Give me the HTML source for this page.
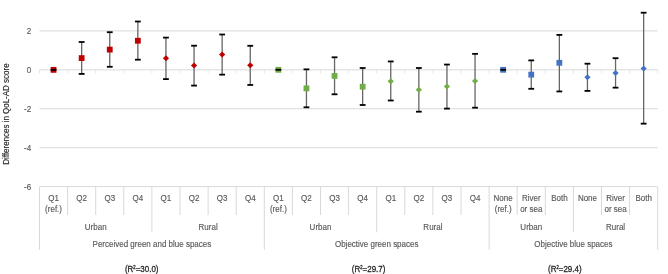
<!DOCTYPE html><html><head><meta charset="utf-8"><style>html,body{margin:0;padding:0;background:#fff;}svg{display:block;}#w{will-change:transform;width:668px;height:274px;}text{font-family:"Liberation Sans",sans-serif;}</style></head><body>
<div id="w">
<svg width="668" height="274" viewBox="0 0 668 274">
<rect width="668" height="274" fill="#fff"/>
<line x1="39.5" y1="30.9" x2="657.70" y2="30.9" stroke="#d9d9d9" stroke-width="1"/>
<line x1="39.5" y1="69.85" x2="657.70" y2="69.85" stroke="#d9d9d9" stroke-width="1"/>
<line x1="39.5" y1="108.76" x2="657.70" y2="108.76" stroke="#d9d9d9" stroke-width="1"/>
<line x1="39.5" y1="147.7" x2="657.70" y2="147.7" stroke="#d9d9d9" stroke-width="1"/>
<line x1="39.50" y1="69.85" x2="39.50" y2="73.35" stroke="#e6e6e6" stroke-width="1"/>
<line x1="67.60" y1="69.85" x2="67.60" y2="73.35" stroke="#e6e6e6" stroke-width="1"/>
<line x1="95.70" y1="69.85" x2="95.70" y2="73.35" stroke="#e6e6e6" stroke-width="1"/>
<line x1="123.80" y1="69.85" x2="123.80" y2="73.35" stroke="#e6e6e6" stroke-width="1"/>
<line x1="151.90" y1="69.85" x2="151.90" y2="73.35" stroke="#e6e6e6" stroke-width="1"/>
<line x1="180.00" y1="69.85" x2="180.00" y2="73.35" stroke="#e6e6e6" stroke-width="1"/>
<line x1="208.10" y1="69.85" x2="208.10" y2="73.35" stroke="#e6e6e6" stroke-width="1"/>
<line x1="236.20" y1="69.85" x2="236.20" y2="73.35" stroke="#e6e6e6" stroke-width="1"/>
<line x1="264.30" y1="69.85" x2="264.30" y2="73.35" stroke="#e6e6e6" stroke-width="1"/>
<line x1="292.40" y1="69.85" x2="292.40" y2="73.35" stroke="#e6e6e6" stroke-width="1"/>
<line x1="320.50" y1="69.85" x2="320.50" y2="73.35" stroke="#e6e6e6" stroke-width="1"/>
<line x1="348.60" y1="69.85" x2="348.60" y2="73.35" stroke="#e6e6e6" stroke-width="1"/>
<line x1="376.70" y1="69.85" x2="376.70" y2="73.35" stroke="#e6e6e6" stroke-width="1"/>
<line x1="404.80" y1="69.85" x2="404.80" y2="73.35" stroke="#e6e6e6" stroke-width="1"/>
<line x1="432.90" y1="69.85" x2="432.90" y2="73.35" stroke="#e6e6e6" stroke-width="1"/>
<line x1="461.00" y1="69.85" x2="461.00" y2="73.35" stroke="#e6e6e6" stroke-width="1"/>
<line x1="489.10" y1="69.85" x2="489.10" y2="73.35" stroke="#e6e6e6" stroke-width="1"/>
<line x1="517.20" y1="69.85" x2="517.20" y2="73.35" stroke="#e6e6e6" stroke-width="1"/>
<line x1="545.30" y1="69.85" x2="545.30" y2="73.35" stroke="#e6e6e6" stroke-width="1"/>
<line x1="573.40" y1="69.85" x2="573.40" y2="73.35" stroke="#e6e6e6" stroke-width="1"/>
<line x1="601.50" y1="69.85" x2="601.50" y2="73.35" stroke="#e6e6e6" stroke-width="1"/>
<line x1="629.60" y1="69.85" x2="629.60" y2="73.35" stroke="#e6e6e6" stroke-width="1"/>
<line x1="657.70" y1="69.85" x2="657.70" y2="73.35" stroke="#e6e6e6" stroke-width="1"/>
<line x1="39.5" y1="186.6" x2="657.70" y2="186.6" stroke="#d9d9d9" stroke-width="1"/>
<line x1="39.50" y1="186.6" x2="39.50" y2="249.8" stroke="#d9d9d9" stroke-width="1"/>
<line x1="67.60" y1="186.6" x2="67.60" y2="215.0" stroke="#d9d9d9" stroke-width="1"/>
<line x1="95.70" y1="186.6" x2="95.70" y2="215.0" stroke="#d9d9d9" stroke-width="1"/>
<line x1="123.80" y1="186.6" x2="123.80" y2="215.0" stroke="#d9d9d9" stroke-width="1"/>
<line x1="151.90" y1="186.6" x2="151.90" y2="232.4" stroke="#d9d9d9" stroke-width="1"/>
<line x1="180.00" y1="186.6" x2="180.00" y2="215.0" stroke="#d9d9d9" stroke-width="1"/>
<line x1="208.10" y1="186.6" x2="208.10" y2="215.0" stroke="#d9d9d9" stroke-width="1"/>
<line x1="236.20" y1="186.6" x2="236.20" y2="215.0" stroke="#d9d9d9" stroke-width="1"/>
<line x1="264.30" y1="186.6" x2="264.30" y2="249.8" stroke="#d9d9d9" stroke-width="1"/>
<line x1="292.40" y1="186.6" x2="292.40" y2="215.0" stroke="#d9d9d9" stroke-width="1"/>
<line x1="320.50" y1="186.6" x2="320.50" y2="215.0" stroke="#d9d9d9" stroke-width="1"/>
<line x1="348.60" y1="186.6" x2="348.60" y2="215.0" stroke="#d9d9d9" stroke-width="1"/>
<line x1="376.70" y1="186.6" x2="376.70" y2="232.4" stroke="#d9d9d9" stroke-width="1"/>
<line x1="404.80" y1="186.6" x2="404.80" y2="215.0" stroke="#d9d9d9" stroke-width="1"/>
<line x1="432.90" y1="186.6" x2="432.90" y2="215.0" stroke="#d9d9d9" stroke-width="1"/>
<line x1="461.00" y1="186.6" x2="461.00" y2="215.0" stroke="#d9d9d9" stroke-width="1"/>
<line x1="489.10" y1="186.6" x2="489.10" y2="249.8" stroke="#d9d9d9" stroke-width="1"/>
<line x1="517.20" y1="186.6" x2="517.20" y2="215.0" stroke="#d9d9d9" stroke-width="1"/>
<line x1="545.30" y1="186.6" x2="545.30" y2="215.0" stroke="#d9d9d9" stroke-width="1"/>
<line x1="573.40" y1="186.6" x2="573.40" y2="232.4" stroke="#d9d9d9" stroke-width="1"/>
<line x1="601.50" y1="186.6" x2="601.50" y2="215.0" stroke="#d9d9d9" stroke-width="1"/>
<line x1="629.60" y1="186.6" x2="629.60" y2="215.0" stroke="#d9d9d9" stroke-width="1"/>
<line x1="657.70" y1="186.6" x2="657.70" y2="249.8" stroke="#d9d9d9" stroke-width="1"/>
<text transform="translate(31.20,34.00) scale(0.93,1)" font-size="8.6" fill="#595959" stroke="#595959" stroke-width="0.15" text-anchor="end">2</text>
<text transform="translate(31.20,72.95) scale(0.93,1)" font-size="8.6" fill="#595959" stroke="#595959" stroke-width="0.15" text-anchor="end">0</text>
<text transform="translate(31.20,111.86) scale(0.93,1)" font-size="8.6" fill="#595959" stroke="#595959" stroke-width="0.15" text-anchor="end">-2</text>
<text transform="translate(31.20,150.80) scale(0.93,1)" font-size="8.6" fill="#595959" stroke="#595959" stroke-width="0.15" text-anchor="end">-4</text>
<text transform="translate(31.20,189.70) scale(0.93,1)" font-size="8.6" fill="#595959" stroke="#595959" stroke-width="0.15" text-anchor="end">-6</text>
<text transform="translate(8.6,114.1) rotate(-90) scale(0.94,1)" font-size="8.5" fill="#262626" stroke="#262626" stroke-width="0.15" text-anchor="middle">Differences in QoL-AD score</text>
<text transform="translate(53.55,200.70) scale(0.93,1)" font-size="8.6" fill="#595959" stroke="#595959" stroke-width="0.15" text-anchor="middle">Q1</text>
<text transform="translate(53.55,211.80) scale(0.93,1)" font-size="8.6" fill="#595959" stroke="#595959" stroke-width="0.15" text-anchor="middle">(ref.)</text>
<text transform="translate(81.65,200.70) scale(0.93,1)" font-size="8.6" fill="#595959" stroke="#595959" stroke-width="0.15" text-anchor="middle">Q2</text>
<text transform="translate(109.75,200.70) scale(0.93,1)" font-size="8.6" fill="#595959" stroke="#595959" stroke-width="0.15" text-anchor="middle">Q3</text>
<text transform="translate(137.85,200.70) scale(0.93,1)" font-size="8.6" fill="#595959" stroke="#595959" stroke-width="0.15" text-anchor="middle">Q4</text>
<text transform="translate(165.95,200.70) scale(0.93,1)" font-size="8.6" fill="#595959" stroke="#595959" stroke-width="0.15" text-anchor="middle">Q1</text>
<text transform="translate(194.05,200.70) scale(0.93,1)" font-size="8.6" fill="#595959" stroke="#595959" stroke-width="0.15" text-anchor="middle">Q2</text>
<text transform="translate(222.15,200.70) scale(0.93,1)" font-size="8.6" fill="#595959" stroke="#595959" stroke-width="0.15" text-anchor="middle">Q3</text>
<text transform="translate(250.25,200.70) scale(0.93,1)" font-size="8.6" fill="#595959" stroke="#595959" stroke-width="0.15" text-anchor="middle">Q4</text>
<text transform="translate(278.35,200.70) scale(0.93,1)" font-size="8.6" fill="#595959" stroke="#595959" stroke-width="0.15" text-anchor="middle">Q1</text>
<text transform="translate(278.35,211.80) scale(0.93,1)" font-size="8.6" fill="#595959" stroke="#595959" stroke-width="0.15" text-anchor="middle">(ref.)</text>
<text transform="translate(306.45,200.70) scale(0.93,1)" font-size="8.6" fill="#595959" stroke="#595959" stroke-width="0.15" text-anchor="middle">Q2</text>
<text transform="translate(334.55,200.70) scale(0.93,1)" font-size="8.6" fill="#595959" stroke="#595959" stroke-width="0.15" text-anchor="middle">Q3</text>
<text transform="translate(362.65,200.70) scale(0.93,1)" font-size="8.6" fill="#595959" stroke="#595959" stroke-width="0.15" text-anchor="middle">Q4</text>
<text transform="translate(390.75,200.70) scale(0.93,1)" font-size="8.6" fill="#595959" stroke="#595959" stroke-width="0.15" text-anchor="middle">Q1</text>
<text transform="translate(418.85,200.70) scale(0.93,1)" font-size="8.6" fill="#595959" stroke="#595959" stroke-width="0.15" text-anchor="middle">Q2</text>
<text transform="translate(446.95,200.70) scale(0.93,1)" font-size="8.6" fill="#595959" stroke="#595959" stroke-width="0.15" text-anchor="middle">Q3</text>
<text transform="translate(475.05,200.70) scale(0.93,1)" font-size="8.6" fill="#595959" stroke="#595959" stroke-width="0.15" text-anchor="middle">Q4</text>
<text transform="translate(503.15,200.70) scale(0.93,1)" font-size="8.6" fill="#595959" stroke="#595959" stroke-width="0.15" text-anchor="middle">None</text>
<text transform="translate(503.15,211.80) scale(0.93,1)" font-size="8.6" fill="#595959" stroke="#595959" stroke-width="0.15" text-anchor="middle">(ref.)</text>
<text transform="translate(531.25,200.70) scale(0.93,1)" font-size="8.6" fill="#595959" stroke="#595959" stroke-width="0.15" text-anchor="middle">River</text>
<text transform="translate(531.25,211.80) scale(0.93,1)" font-size="8.6" fill="#595959" stroke="#595959" stroke-width="0.15" text-anchor="middle">or sea</text>
<text transform="translate(559.35,200.70) scale(0.93,1)" font-size="8.6" fill="#595959" stroke="#595959" stroke-width="0.15" text-anchor="middle">Both</text>
<text transform="translate(587.45,200.70) scale(0.93,1)" font-size="8.6" fill="#595959" stroke="#595959" stroke-width="0.15" text-anchor="middle">None</text>
<text transform="translate(615.55,200.70) scale(0.93,1)" font-size="8.6" fill="#595959" stroke="#595959" stroke-width="0.15" text-anchor="middle">River</text>
<text transform="translate(615.55,211.80) scale(0.93,1)" font-size="8.6" fill="#595959" stroke="#595959" stroke-width="0.15" text-anchor="middle">or sea</text>
<text transform="translate(643.65,200.70) scale(0.93,1)" font-size="8.6" fill="#595959" stroke="#595959" stroke-width="0.15" text-anchor="middle">Both</text>
<text transform="translate(95.70,229.50) scale(0.93,1)" font-size="8.6" fill="#595959" stroke="#595959" stroke-width="0.15" text-anchor="middle">Urban</text>
<text transform="translate(208.10,229.50) scale(0.93,1)" font-size="8.6" fill="#595959" stroke="#595959" stroke-width="0.15" text-anchor="middle">Rural</text>
<text transform="translate(320.50,229.50) scale(0.93,1)" font-size="8.6" fill="#595959" stroke="#595959" stroke-width="0.15" text-anchor="middle">Urban</text>
<text transform="translate(432.90,229.50) scale(0.93,1)" font-size="8.6" fill="#595959" stroke="#595959" stroke-width="0.15" text-anchor="middle">Rural</text>
<text transform="translate(531.25,229.50) scale(0.93,1)" font-size="8.6" fill="#595959" stroke="#595959" stroke-width="0.15" text-anchor="middle">Urban</text>
<text transform="translate(615.55,229.50) scale(0.93,1)" font-size="8.6" fill="#595959" stroke="#595959" stroke-width="0.15" text-anchor="middle">Rural</text>
<text transform="translate(151.90,246.80) scale(0.93,1)" font-size="8.6" fill="#595959" stroke="#595959" stroke-width="0.15" text-anchor="middle">Perceived green and blue spaces</text>
<text transform="translate(376.70,246.80) scale(0.93,1)" font-size="8.6" fill="#595959" stroke="#595959" stroke-width="0.15" text-anchor="middle">Objective green spaces</text>
<text transform="translate(573.40,246.80) scale(0.93,1)" font-size="8.6" fill="#595959" stroke="#595959" stroke-width="0.15" text-anchor="middle">Objective blue spaces</text>
<text transform="translate(141.70,271.50) scale(0.87,1)" font-size="9.2" fill="#262626" stroke="#262626" stroke-width="0.3" text-anchor="middle">(R<tspan font-size="4.8" dy="-2.5">2</tspan><tspan dy="2.5">=30.0)</tspan></text>
<text transform="translate(368.60,271.50) scale(0.87,1)" font-size="9.2" fill="#262626" stroke="#262626" stroke-width="0.3" text-anchor="middle">(R<tspan font-size="4.8" dy="-2.5">2</tspan><tspan dy="2.5">=29.7)</tspan></text>
<text transform="translate(564.80,271.50) scale(0.87,1)" font-size="9.2" fill="#262626" stroke="#262626" stroke-width="0.3" text-anchor="middle">(R<tspan font-size="4.8" dy="-2.5">2</tspan><tspan dy="2.5">=29.4)</tspan></text>
<rect x="50.65" y="66.95" width="5.8" height="5.8" fill="#c00000"/>
<line x1="50.65" y1="69.85" x2="56.45" y2="69.85" stroke="#000" stroke-width="1.8"/>
<line x1="81.65" y1="42.0" x2="81.65" y2="73.9" stroke="#666" stroke-width="1.3"/>
<rect x="78.75" y="55.20" width="5.8" height="5.8" fill="#c00000"/>
<line x1="78.75" y1="42.0" x2="84.55" y2="42.0" stroke="#000" stroke-width="1.8"/>
<line x1="78.75" y1="73.9" x2="84.55" y2="73.9" stroke="#000" stroke-width="1.8"/>
<line x1="109.75" y1="32.2" x2="109.75" y2="66.8" stroke="#666" stroke-width="1.3"/>
<rect x="106.85" y="46.70" width="5.8" height="5.8" fill="#c00000"/>
<line x1="106.85" y1="32.2" x2="112.65" y2="32.2" stroke="#000" stroke-width="1.8"/>
<line x1="106.85" y1="66.8" x2="112.65" y2="66.8" stroke="#000" stroke-width="1.8"/>
<line x1="137.85" y1="21.5" x2="137.85" y2="59.7" stroke="#666" stroke-width="1.3"/>
<rect x="134.95" y="37.85" width="5.8" height="5.8" fill="#c00000"/>
<line x1="134.95" y1="21.5" x2="140.75" y2="21.5" stroke="#000" stroke-width="1.8"/>
<line x1="134.95" y1="59.7" x2="140.75" y2="59.7" stroke="#000" stroke-width="1.8"/>
<line x1="165.95" y1="37.6" x2="165.95" y2="79.1" stroke="#666" stroke-width="1.3"/>
<path d="M165.95 55.30L169.05 58.30L165.95 61.30L162.85 58.30Z" fill="#c00000"/>
<line x1="163.05" y1="37.6" x2="168.85" y2="37.6" stroke="#000" stroke-width="1.8"/>
<line x1="163.05" y1="79.1" x2="168.85" y2="79.1" stroke="#000" stroke-width="1.8"/>
<line x1="194.05" y1="45.7" x2="194.05" y2="85.6" stroke="#666" stroke-width="1.3"/>
<path d="M194.05 62.50L197.15 65.50L194.05 68.50L190.95 65.50Z" fill="#c00000"/>
<line x1="191.15" y1="45.7" x2="196.95" y2="45.7" stroke="#000" stroke-width="1.8"/>
<line x1="191.15" y1="85.6" x2="196.95" y2="85.6" stroke="#000" stroke-width="1.8"/>
<line x1="222.15" y1="34.5" x2="222.15" y2="74.65" stroke="#666" stroke-width="1.3"/>
<path d="M222.15 51.40L225.25 54.40L222.15 57.40L219.05 54.40Z" fill="#c00000"/>
<line x1="219.25" y1="34.5" x2="225.05" y2="34.5" stroke="#000" stroke-width="1.8"/>
<line x1="219.25" y1="74.65" x2="225.05" y2="74.65" stroke="#000" stroke-width="1.8"/>
<line x1="250.25" y1="45.8" x2="250.25" y2="84.95" stroke="#666" stroke-width="1.3"/>
<path d="M250.25 62.35L253.35 65.35L250.25 68.35L247.15 65.35Z" fill="#c00000"/>
<line x1="247.35" y1="45.8" x2="253.15" y2="45.8" stroke="#000" stroke-width="1.8"/>
<line x1="247.35" y1="84.95" x2="253.15" y2="84.95" stroke="#000" stroke-width="1.8"/>
<rect x="275.45" y="66.90" width="5.8" height="5.8" fill="#70ad47"/>
<line x1="275.45" y1="69.8" x2="281.25" y2="69.8" stroke="#000" stroke-width="1.8"/>
<line x1="306.45" y1="69.35" x2="306.45" y2="107.3" stroke="#666" stroke-width="1.3"/>
<rect x="303.55" y="85.45" width="5.8" height="5.8" fill="#70ad47"/>
<line x1="303.55" y1="69.35" x2="309.35" y2="69.35" stroke="#000" stroke-width="1.8"/>
<line x1="303.55" y1="107.3" x2="309.35" y2="107.3" stroke="#000" stroke-width="1.8"/>
<line x1="334.55" y1="57.3" x2="334.55" y2="94.3" stroke="#666" stroke-width="1.3"/>
<rect x="331.65" y="73.00" width="5.8" height="5.8" fill="#70ad47"/>
<line x1="331.65" y1="57.3" x2="337.45" y2="57.3" stroke="#000" stroke-width="1.8"/>
<line x1="331.65" y1="94.3" x2="337.45" y2="94.3" stroke="#000" stroke-width="1.8"/>
<line x1="362.65" y1="68.0" x2="362.65" y2="105.0" stroke="#666" stroke-width="1.3"/>
<rect x="359.75" y="83.80" width="5.8" height="5.8" fill="#70ad47"/>
<line x1="359.75" y1="68.0" x2="365.55" y2="68.0" stroke="#000" stroke-width="1.8"/>
<line x1="359.75" y1="105.0" x2="365.55" y2="105.0" stroke="#000" stroke-width="1.8"/>
<line x1="390.75" y1="61.45" x2="390.75" y2="100.5" stroke="#666" stroke-width="1.3"/>
<path d="M390.75 78.20L393.85 81.20L390.75 84.20L387.65 81.20Z" fill="#70ad47"/>
<line x1="387.85" y1="61.45" x2="393.65" y2="61.45" stroke="#000" stroke-width="1.8"/>
<line x1="387.85" y1="100.5" x2="393.65" y2="100.5" stroke="#000" stroke-width="1.8"/>
<line x1="418.85" y1="68.0" x2="418.85" y2="111.7" stroke="#666" stroke-width="1.3"/>
<path d="M418.85 86.70L421.95 89.70L418.85 92.70L415.75 89.70Z" fill="#70ad47"/>
<line x1="415.95" y1="68.0" x2="421.75" y2="68.0" stroke="#000" stroke-width="1.8"/>
<line x1="415.95" y1="111.7" x2="421.75" y2="111.7" stroke="#000" stroke-width="1.8"/>
<line x1="446.95" y1="64.55" x2="446.95" y2="108.6" stroke="#666" stroke-width="1.3"/>
<path d="M446.95 83.60L450.05 86.60L446.95 89.60L443.85 86.60Z" fill="#70ad47"/>
<line x1="444.05" y1="64.55" x2="449.85" y2="64.55" stroke="#000" stroke-width="1.8"/>
<line x1="444.05" y1="108.6" x2="449.85" y2="108.6" stroke="#000" stroke-width="1.8"/>
<line x1="475.05" y1="53.85" x2="475.05" y2="107.7" stroke="#666" stroke-width="1.3"/>
<path d="M475.05 77.95L478.15 80.95L475.05 83.95L471.95 80.95Z" fill="#70ad47"/>
<line x1="472.15" y1="53.85" x2="477.95" y2="53.85" stroke="#000" stroke-width="1.8"/>
<line x1="472.15" y1="107.7" x2="477.95" y2="107.7" stroke="#000" stroke-width="1.8"/>
<rect x="500.25" y="66.90" width="5.8" height="5.8" fill="#4472c4"/>
<line x1="500.25" y1="69.8" x2="506.05" y2="69.8" stroke="#000" stroke-width="1.8"/>
<line x1="531.25" y1="60.4" x2="531.25" y2="88.8" stroke="#666" stroke-width="1.3"/>
<rect x="528.35" y="71.75" width="5.8" height="5.8" fill="#4472c4"/>
<line x1="528.35" y1="60.4" x2="534.15" y2="60.4" stroke="#000" stroke-width="1.8"/>
<line x1="528.35" y1="88.8" x2="534.15" y2="88.8" stroke="#000" stroke-width="1.8"/>
<line x1="559.35" y1="34.9" x2="559.35" y2="91.45" stroke="#666" stroke-width="1.3"/>
<rect x="556.45" y="59.90" width="5.8" height="5.8" fill="#4472c4"/>
<line x1="556.45" y1="34.9" x2="562.25" y2="34.9" stroke="#000" stroke-width="1.8"/>
<line x1="556.45" y1="91.45" x2="562.25" y2="91.45" stroke="#000" stroke-width="1.8"/>
<line x1="587.45" y1="63.7" x2="587.45" y2="90.9" stroke="#666" stroke-width="1.3"/>
<path d="M587.45 74.25L590.55 77.25L587.45 80.25L584.35 77.25Z" fill="#4472c4"/>
<line x1="584.55" y1="63.7" x2="590.35" y2="63.7" stroke="#000" stroke-width="1.8"/>
<line x1="584.55" y1="90.9" x2="590.35" y2="90.9" stroke="#000" stroke-width="1.8"/>
<line x1="615.55" y1="58.2" x2="615.55" y2="87.65" stroke="#666" stroke-width="1.3"/>
<path d="M615.55 69.95L618.65 72.95L615.55 75.95L612.45 72.95Z" fill="#4472c4"/>
<line x1="612.65" y1="58.2" x2="618.45" y2="58.2" stroke="#000" stroke-width="1.8"/>
<line x1="612.65" y1="87.65" x2="618.45" y2="87.65" stroke="#000" stroke-width="1.8"/>
<line x1="643.65" y1="12.7" x2="643.65" y2="123.65" stroke="#666" stroke-width="1.3"/>
<path d="M643.65 65.40L646.75 68.40L643.65 71.40L640.55 68.40Z" fill="#4472c4"/>
<line x1="640.75" y1="12.7" x2="646.55" y2="12.7" stroke="#000" stroke-width="1.8"/>
<line x1="640.75" y1="123.65" x2="646.55" y2="123.65" stroke="#000" stroke-width="1.8"/>
</svg></div></body></html>
